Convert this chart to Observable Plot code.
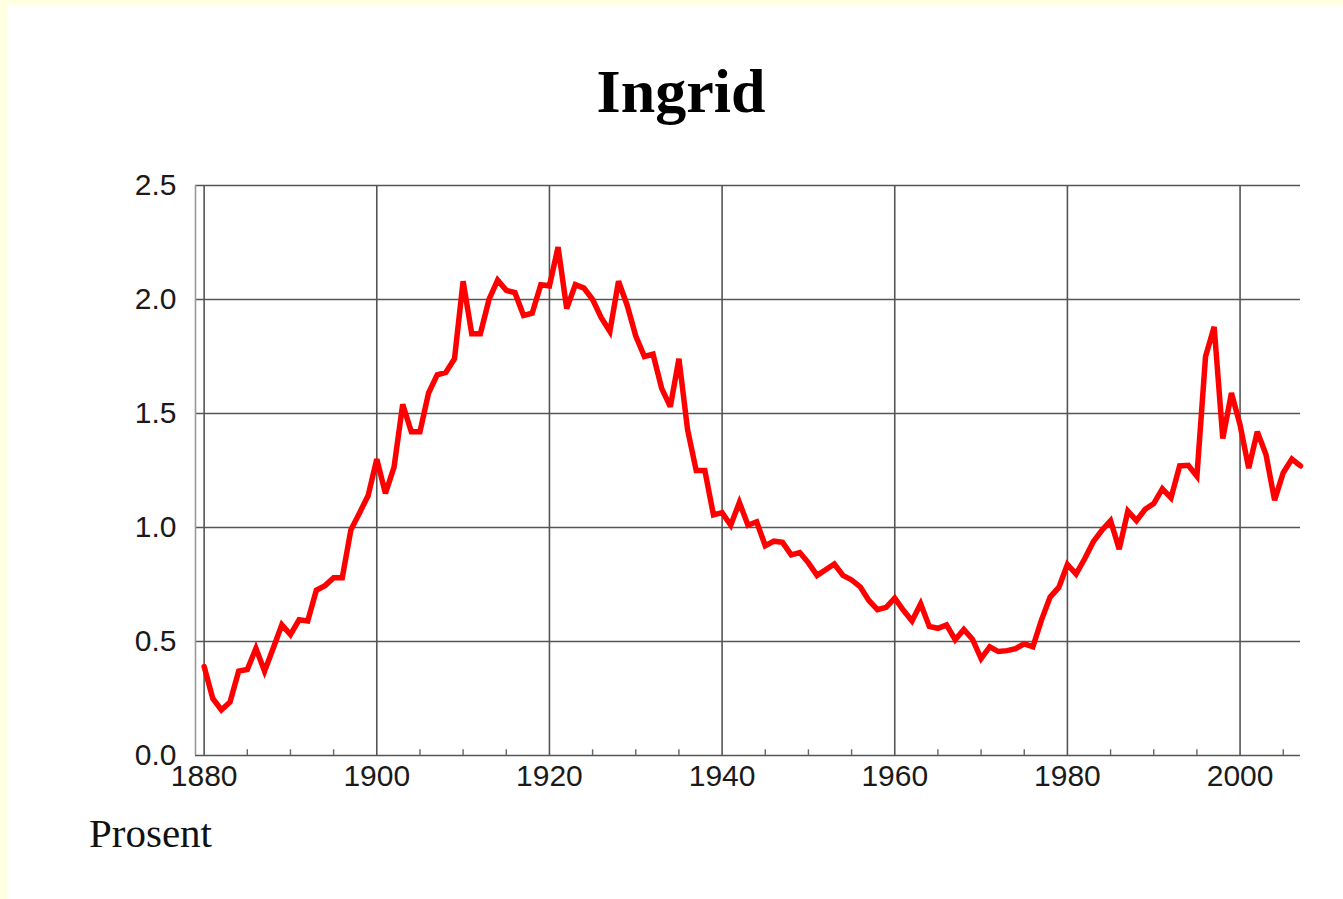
<!DOCTYPE html>
<html>
<head>
<meta charset="utf-8">
<script src="https://cdn.jsdelivr.net/npm/d3@7"></script>
<script src="https://cdn.jsdelivr.net/npm/@observablehq/plot@0.6"></script>
<style>
  html, body { margin: 0; padding: 0; }
  body { width: 1343px; height: 899px; background: #ffffe2; position: relative; overflow: hidden; }
  #page { position: absolute; left: 7px; top: 5px; right: 0; bottom: 0; background: #ffffff; }
  #title { position: absolute; left: 0; width: 1362px; top: 60px; text-align: center;
           font-family: "Liberation Serif", "Times New Roman", serif; font-weight: bold; font-size: 62px; line-height: 1; color: #000; }
  #chart { position: absolute; left: 0; top: 150px; }
  #caption { position: absolute; left: 89px; top: 813px; font-family: "Liberation Serif", "Times New Roman", serif;
             font-size: 41px; line-height: 1; color: #111; }
</style>
</head>
<body>
<div id="page"></div>
<div id="title">Ingrid</div>
<div id="chart"></div>
<div id="caption">Prosent</div>
<script>
const years = d3.range(1880, 2008);
const values = [
  0.39, 0.25, 0.20, 0.235, 0.37, 0.377, 0.47, 0.37, 0.47, 0.573,
  0.53, 0.595, 0.59, 0.725, 0.745, 0.78, 0.78, 0.99, 1.064, 1.14,
  1.30, 1.15, 1.265, 1.54, 1.42, 1.42, 1.59, 1.67, 1.68, 1.74,
  2.08, 1.85, 1.85, 2.00, 2.085, 2.04, 2.03, 1.93, 1.94, 2.065,
  2.06, 2.23, 1.96, 2.065, 2.05, 2.00, 1.92, 1.86, 2.08, 1.975,
  1.84, 1.75, 1.76, 1.61, 1.53, 1.74, 1.43, 1.25, 1.25, 1.055,
  1.065, 1.01, 1.11, 1.01, 1.025, 0.92, 0.94, 0.935, 0.88, 0.89,
  0.845, 0.79, 0.815, 0.84, 0.79, 0.77, 0.74, 0.68, 0.64, 0.65,
  0.69, 0.637, 0.59, 0.665, 0.566, 0.558, 0.573, 0.508, 0.553, 0.51,
  0.425, 0.477, 0.456, 0.46, 0.469, 0.49, 0.477, 0.595, 0.695, 0.737,
  0.838, 0.796, 0.863, 0.938, 0.988, 1.03, 0.905, 1.072, 1.03, 1.08,
  1.105, 1.17, 1.13, 1.27, 1.273, 1.225, 1.75, 1.88, 1.39, 1.59,
  1.45, 1.26, 1.42, 1.32, 1.12, 1.24, 1.30, 1.27
];
const yTicks = [0, 0.5, 1.0, 1.5, 2.0, 2.5];
const xTicks = [1880, 1900, 1920, 1940, 1960, 1980, 2000];
const minorTicks = d3.range(1885, 2006, 5).filter(y => y % 20 !== 0);

const data = years.map((year, i) => ({year, value: values[i]}));
const xDomain = [1879, 2007];

const chart = Plot.plot({
  width: 1343,
  height: 660,
  marginLeft: 195,
  marginRight: 43,
  marginTop: 35,
  marginBottom: 55,
  style: {background: "transparent", fontFamily: "'Liberation Sans', Arial, sans-serif", color: "#1a1a1a"},
  x: {domain: xDomain},
  y: {domain: [0, 2.5]},
  marks: [
    Plot.ruleY(yTicks, {stroke: "#555", strokeWidth: 1.6}),
    Plot.ruleX(xTicks, {stroke: "#555", strokeWidth: 1.6}),
    Plot.ruleX([xDomain[0]], {stroke: "#999", strokeWidth: 1.6}),
    Plot.ruleX(minorTicks, {y1: 0, y2: 0.025, stroke: "#666", strokeWidth: 1.4}),
    Plot.line(data, {x: "year", y: "value", stroke: "#ff0000", strokeWidth: 5.5, strokeLinejoin: "miter", strokeMiterlimit: 3}),
    Plot.axisY({ticks: yTicks, tickFormat: d3.format(".1f"), tickSize: 0, tickPadding: 19, fontSize: 30, label: null}),
    Plot.axisX({ticks: xTicks, tickFormat: d => String(d), tickSize: 0, tickPadding: 9, fontSize: 30, label: null})
  ]
});
document.getElementById("chart").appendChild(chart);
</script>
</body>
</html>
